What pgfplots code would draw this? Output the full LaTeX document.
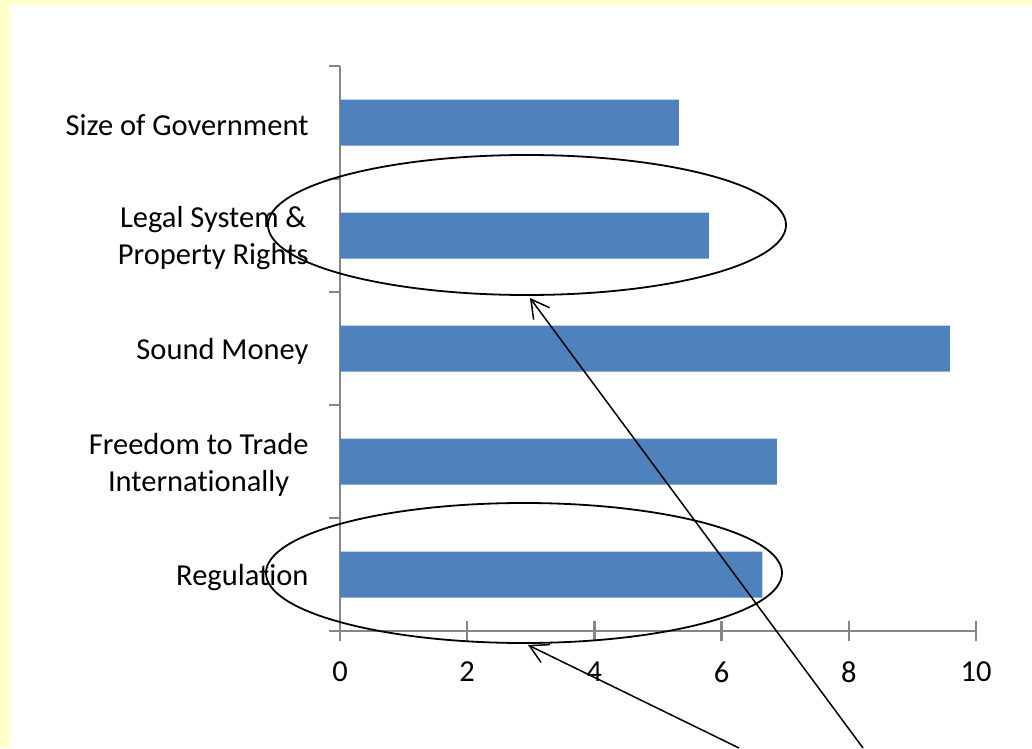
\documentclass[border=0pt]{standalone}
\usepackage{pgfplots}
\pgfplotsset{compat=1.18}
\usepackage{fontspec}
\setmainfont{Carlito}[Ligatures=NoCommon]
\usetikzlibrary{arrows.meta}
\definecolor{bgyellow}{HTML}{FFFFCC}
\definecolor{barblue}{HTML}{4F81BD}
\definecolor{axgray}{HTML}{868686}
\begin{document}
\begin{tikzpicture}
\useasboundingbox (0,0) rectangle (1032pt,748pt);
\fill[bgyellow] (0,0) rectangle (1032pt,748pt);
\fill[white] (10pt,0) rectangle (1032pt,743pt);
\begin{axis}[
  at={(340pt,117pt)}, anchor=south west,
  scale only axis, width=636pt, height=565pt,
  xmin=0, xmax=10, ymin=-0.5, ymax=4.5,
  axis x line=bottom, axis y line=left,
  axis line style={draw=axgray, line width=2.8pt, -},
  xtick={0,2,...,10},
  ytick={0,1,2,3,4},
  yticklabels={Regulation, {Freedom to Trade\\Internationally}, Sound Money, {Legal System \&\\Property Rights}, Size of Government},
  minor ytick={-0.5,0.5,1.5,2.5,3.5,4.5},
  major y tick style={draw=none},
  minor y tick style={draw=axgray, line width=2.5pt},
  major x tick style={draw=axgray, line width=2.5pt},
  xtick align=center, ytick align=outside,
  major tick length=20pt, minor tick length=11pt,
  tick label style={font=\fontsize{30.5}{37}\selectfont},
  yticklabel style={align=center, xshift=-8pt, yshift=-3pt},
  xticklabel style={yshift=-17pt},
  /pgf/number format/assume math mode=true,
  clip=false,
]
\addplot[xbar, bar width=46pt, fill=barblue, draw=none]
  coordinates {(6.64,0) (6.87,1) (9.59,2) (5.80,3) (5.33,4)};
\end{axis}
% annotations (pixel coordinates, y flipped)
\draw[black, line width=1.8pt] (527pt,523pt) ellipse [x radius=259pt, y radius=70pt];
\draw[black, line width=1.8pt] (524pt,175pt) ellipse [x radius=258pt, y radius=70pt];
\draw[black, line width=1.5pt, -{Straight Barb[length=18pt,width=20pt,line width=1.5pt]}] (863pt,0pt) -- (530pt,450pt);
\draw[black, line width=1.5pt, -{Straight Barb[length=18pt,width=20pt,line width=1.5pt]}] (739pt,0pt) -- (528pt,103pt);
\end{tikzpicture}
\end{document}
